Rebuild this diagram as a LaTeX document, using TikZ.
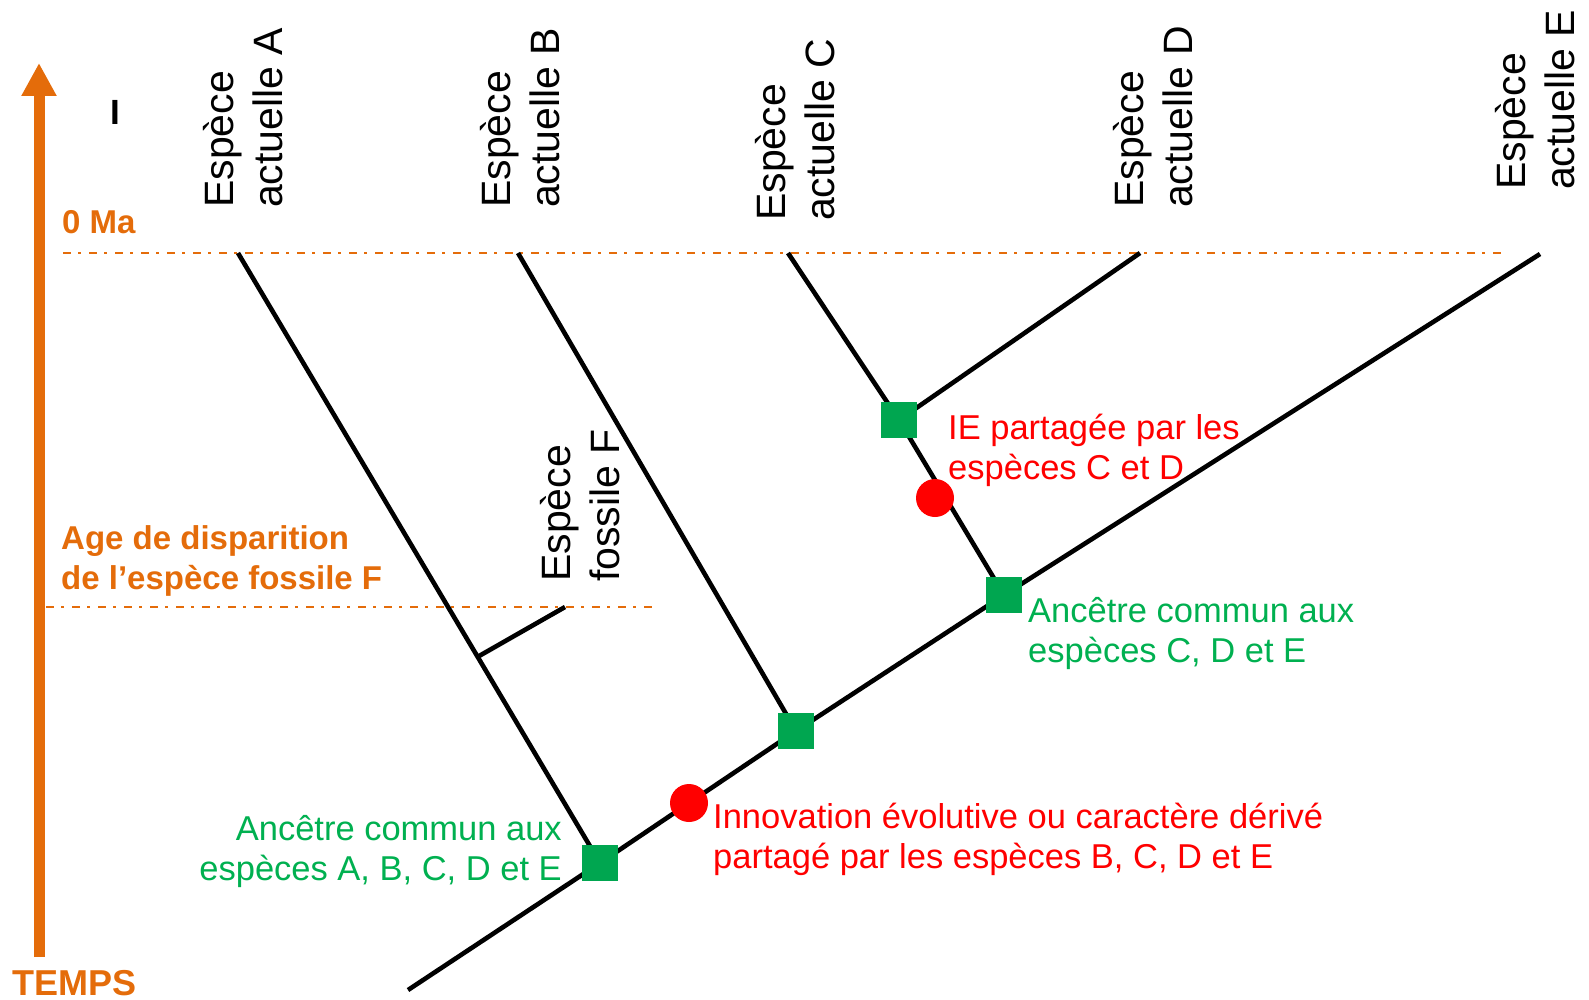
\documentclass[tikz,border=0pt]{standalone}
\usepackage{fontspec}
\setmainfont{Liberation Sans}
\usetikzlibrary{arrows.meta,backgrounds,calc}
\definecolor{orng}{RGB}{228,108,10}
\definecolor{gtxt}{RGB}{0,176,80}
\definecolor{gsqc}{RGB}{0,166,80}
\definecolor{rd}{RGB}{255,0,0}
\begin{document}
\begin{tikzpicture}[x=1pt,y=-1pt,
  branch/.style={line width=4.6pt},
  timeline/.style={orng, line width=2.8pt, dash pattern=on 8pt off 7pt on 3pt off 8pt},
  gnode/.style={fill=gsqc, rectangle, minimum size=36pt, inner sep=0pt},
  inov/.style={fill=rd, circle, minimum size=38pt, inner sep=0pt},
  taxon/.style={rotate=90, anchor=south west, align=left, inner sep=0pt, font=\fontsize{41}{49}\selectfont},
  gtext/.style={gtxt, inner sep=0pt, font=\fontsize{34.5}{40}\selectfont},
  rtext/.style={rd, inner sep=0pt, font=\fontsize{34.5}{40}\selectfont},
  otext/.style={orng, inner sep=0pt, align=left, font=\fontsize{33}{40}\selectfont\bfseries},
]
\useasboundingbox (0,0) rectangle (1589,1000);

% tree coordinates and nodes
\coordinate (Atop) at (238,253);
\coordinate (Btop) at (518,253);
\coordinate (Ctop) at (788,253);
\coordinate (Dtop) at (1140,253);
\coordinate (Etop) at (1540,254);
\coordinate (root) at (408,990);
\coordinate (Ftop) at (565,607);
\coordinate (zeroL) at (63,253);
\coordinate (zeroR) at (1503,253);
\coordinate (fossL) at (46,607);
\coordinate (fossR) at (655,607);
\coordinate (tbot) at (39,957);
\coordinate (ttop) at (39,63);

\node[gnode] (nA) at (600,863) {};
\node[inov] (iBCDE) at (689,803) {};
\node[gnode] (nB) at (796,731) {};
\node[gnode] (nCDE) at (1004,595) {};
\node[inov] (iCD) at (935,498) {};
\node[gnode] (nCD) at (899,420) {};
\coordinate (fork) at ($(Atop)!0.662!(nA)$);

\begin{pgfonlayer}{background}
  \draw[timeline] (zeroL) -- (zeroR);
  \draw[timeline] (fossL) -- (fossR);
  \draw[branch] (root) -- (nA.center) -- (iBCDE.center) -- (nB.center) -- (nCDE.center) -- (Etop);
  \draw[branch] (Atop) -- (nA.center);
  \draw[branch] (fork) -- (Ftop);
  \draw[branch] (Btop) -- (nB.center);
  \draw[branch] (Ctop) -- (nCD.center) -- (nCDE.center);
  \draw[branch] (nCD.center) -- (Dtop);
\end{pgfonlayer}

% time arrow
\draw[orng, line width=11pt, -{Triangle[width=33pt,length=33pt]}] (tbot) -- (ttop);
\node[otext, anchor=base west, font=\fontsize{36}{40}\selectfont\bfseries] (temps) at (12,995) {TEMPS};
\node[otext, anchor=base west] (zero) at (62,234) {0 Ma};
\node[otext, anchor=base west] (age) at (61,589) {Age de disparition\\de l’espèce fossile F};
\node[font=\fontsize{35}{40}\selectfont\bfseries, anchor=base, inner sep=0pt] (mark) at (115,125) {I};

% species labels
\node[taxon] (spA) at (283,208) {Espèce\\actuelle A};
\node[taxon] (spB) at (560,208) {Espèce\\actuelle B};
\node[taxon] (spC) at (835,221) {Espèce\\actuelle C};
\node[taxon] (spD) at (1193,208) {Espèce\\actuelle D};
\node[taxon] (spE) at (1575,190) {Espèce\\actuelle E};
\node[taxon] (spF) at (620,582) {Espèce\\fossile F};

% annotations
\node[gtext, align=right, anchor=base east] (ancA) at (562,880) {Ancêtre commun aux\\espèces A, B, C, D et E};
\node[rtext, align=left, anchor=base west] (ieBCDE) at (713,868) {Innovation évolutive ou caractère dérivé\\partagé par les espèces B, C, D et E};
\node[rtext, align=left, anchor=base west] (ieCD) at (948,479) {IE partagée par les\\espèces C et D};
\node[gtext, align=left, anchor=base west] (ancC) at (1028,662) {Ancêtre commun aux\\espèces C, D et E};
\end{tikzpicture}
\end{document}
